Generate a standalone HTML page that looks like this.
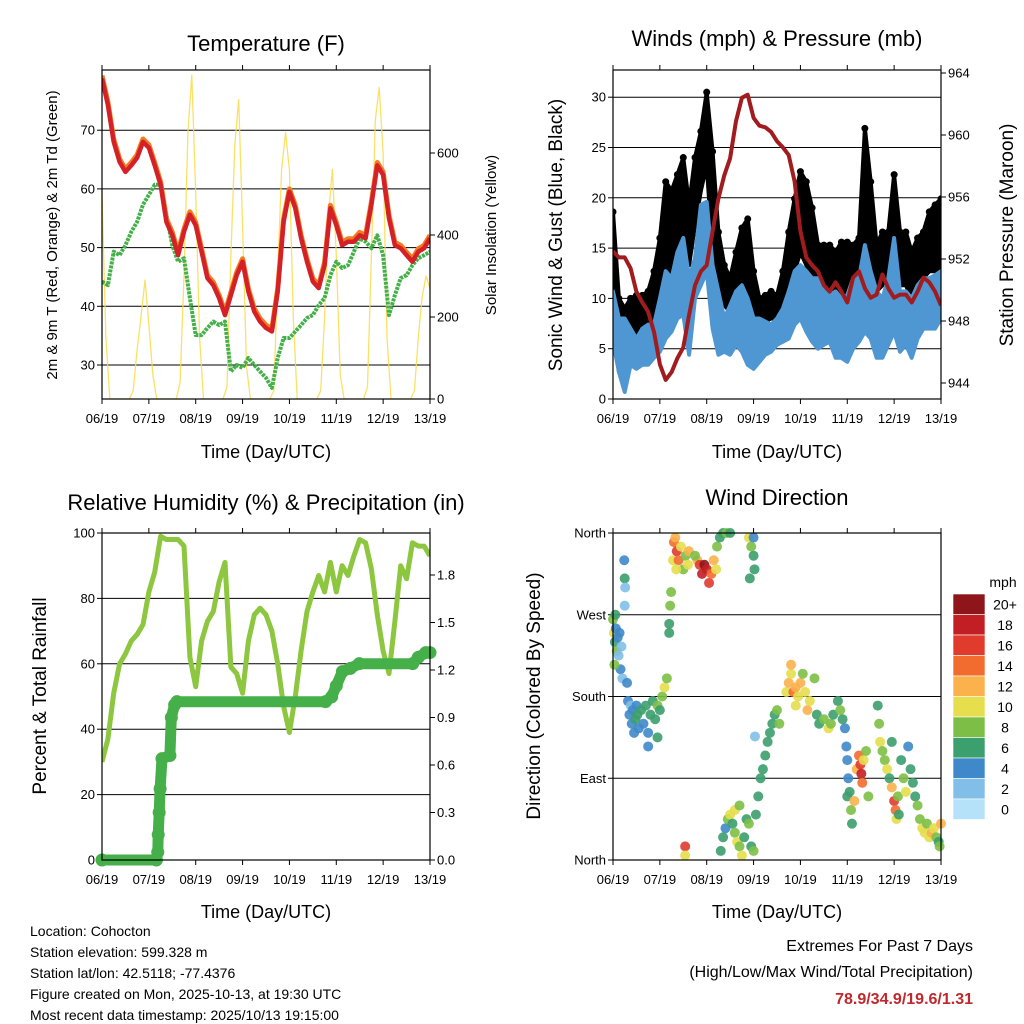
<!DOCTYPE html>
<html><head><meta charset="utf-8">
<style>
html,body{margin:0;padding:0;background:#fff;}
svg{display:block;font-family:"Liberation Sans",sans-serif;}
</style></head>
<body>
<svg id="chart" width="1024" height="1024" viewBox="0 0 1024 1024" xmlns="http://www.w3.org/2000/svg">
<rect width="1024" height="1024" fill="#fff"/>
<defs>
<clipPath id="c1"><rect x="102" y="70" width="328" height="329"/></clipPath>
<clipPath id="c2"><rect x="613" y="70" width="328" height="329"/></clipPath>
<clipPath id="c3"><rect x="102" y="533" width="328" height="327"/></clipPath>
<clipPath id="c4"><rect x="608" y="528" width="338" height="337"/></clipPath>
</defs>
<text x="266" y="51" font-size="22" text-anchor="middle">Temperature (F)</text>
<text x="777" y="46" font-size="22" text-anchor="middle">Winds (mph) &amp; Pressure (mb)</text>
<text x="266" y="510" font-size="22" text-anchor="middle">Relative Humidity (%) &amp; Precipitation (in)</text>
<text x="777" y="505" font-size="22" text-anchor="middle">Wind Direction</text>
<text x="266" y="458" font-size="18" text-anchor="middle">Time (Day/UTC)</text>
<text x="777" y="458" font-size="18" text-anchor="middle">Time (Day/UTC)</text>
<text x="266" y="918" font-size="18" text-anchor="middle">Time (Day/UTC)</text>
<text x="777" y="918" font-size="18" text-anchor="middle">Time (Day/UTC)</text>
<text transform="translate(57,235) rotate(-90)" font-size="15" text-anchor="middle">2m &amp; 9m T (Red, Orange) &amp; 2m Td (Green)</text>
<text transform="translate(496,235) rotate(-90)" font-size="15" text-anchor="middle">Solar Insolation (Yellow)</text>
<text transform="translate(562,235) rotate(-90)" font-size="19" text-anchor="middle">Sonic Wind &amp; Gust (Blue, Black)</text>
<text transform="translate(1013,235) rotate(-90)" font-size="19" text-anchor="middle">Station Pressure (Maroon)</text>
<text transform="translate(46,696) rotate(-90)" font-size="19" text-anchor="middle">Percent &amp; Total Rainfall</text>
<text transform="translate(540,696) rotate(-90)" font-size="19" text-anchor="middle">Direction (Colored By Speed)</text>
<g font-size="14">
<text x="30" y="936">Location: Cohocton</text>
<text x="30" y="957">Station elevation: 599.328 m</text>
<text x="30" y="978">Station lat/lon: 42.5118; -77.4376</text>
<text x="30" y="999">Figure created on Mon, 2025-10-13, at 19:30 UTC</text>
<text x="30" y="1020">Most recent data timestamp: 2025/10/13 19:15:00</text>
</g>
<text x="973" y="951" font-size="16" text-anchor="end">Extremes For Past 7 Days</text>
<text x="973" y="977" font-size="16" text-anchor="end">(High/Low/Max Wind/Total Precipitation)</text>
<text x="973" y="1004" font-size="16" font-weight="bold" fill="#c0282d" text-anchor="end">78.9/34.9/19.6/1.31</text>
<text x="1003" y="587" font-size="14" text-anchor="middle">mph</text>
</svg>
<script>
const xTickLabels = ["06/19","07/19","08/19","09/19","10/19","11/19","12/19","13/19"];
const tempRed = [78.8,74.3,68,64.6,62.9,64,65.3,68,67,64,60.7,54.4,52.1,48.7,52.7,55.6,53.8,49.3,44.8,43.6,41.4,38.5,41.9,45.3,47.6,42.5,39.1,37.4,36.3,35.7,42.5,54.4,59.5,56.7,51.6,47.6,44.2,43.1,47,56.7,53.8,50.4,51,51,52.1,51.6,57.3,64,62.4,55,50.4,49.9,48.7,47.6,49.3,49.9,51.6];
const dewGreen = [44.2,43.6,49.3,48.7,50.4,52.7,54.4,57.3,59,60.7,60.7,55.6,50.4,47.6,48.2,41.4,35.1,35.1,36.3,37.4,36.8,37.4,28.9,30,29.5,31.2,30,28.9,27.8,26.1,31.2,34.6,34.6,35.7,36.8,38,38.5,40.2,41.4,45.3,47.6,46.5,47,49.3,51.6,51,49.9,52.1,48.7,38.5,41.9,44.8,45.3,47,48.2,48.7,49.3];
const solar = [500,150,0,0,0,0,0,0,20,120,200,290,180,60,0,0,0,0,0,0,40,300,650,790,500,150,0,0,0,0,0,0,30,350,620,730,420,80,0,0,0,0,0,0,20,300,560,650,560,200,0,0,0,0,0,0,20,200,450,560,350,60,0,0,0,0,0,0,30,350,680,760,600,150,0,0,0,0,0,0,20,150,250,300,270];
const tempTicks = [30,40,50,60,70];
const solarTicks = [0,200,400,600];
const pressure = [952.5,952.1,952.1,951.4,949.9,949.2,948.6,947.3,945.2,944.2,944.7,945.6,946.3,948.4,950.3,951.2,951.6,953.8,955.9,957.4,958.5,960.9,962.4,962.6,961.1,960.6,960.5,960.2,959.6,959.2,958.7,957,953.8,952.1,951.6,951.2,950.3,949.9,950.5,949.9,949.2,950.8,951.2,950.1,949.5,949.7,951,950.1,949.5,949.7,949.7,949.2,949.9,950.8,950.5,949.9,949];
const windHigh = [10.7,8,8,7,6,7,7.4,7.4,10,12.7,12,14.6,16,12,14,19.3,19.6,13.3,10.7,8,9.3,10.7,11.3,10,8,8,7.7,7.4,8,9,10.7,12.7,13.3,12.7,12,12,10.7,10.3,10.7,10,10.3,12,12,15.3,12.7,10.7,10,12,16,10.7,10.7,10,11.3,12,12,12.3,12.7];
const windLow = [5.7,2.7,0.7,3.4,3,3.4,3.4,4.1,4.7,6,6.7,8,8.4,4.4,10,11.3,12.7,7,4.4,4.7,4.4,5.4,4.7,3.4,3,3.7,4.4,4.7,5.4,5.7,6,7.4,8,6.7,5.7,5,5.4,5.7,4.1,4.1,3.7,5,5.7,6.7,6,4.1,4.1,5.4,6.7,4.7,5.4,4.1,6,7,7,7,8];
const gustHigh = [18.6,10,9,10,10.3,10.3,10.7,12.7,16,21.6,20.7,22.3,24,19.3,24,26.6,30.5,24.6,16.6,13.3,12,14.6,17,17.9,12.7,10,10.3,10.7,10.3,12.7,16.6,19.9,22.6,21.6,19,15.3,15.3,15.3,14.6,15.6,15.6,15.3,16,26.9,21.6,15.3,16.6,16.6,22.3,16.6,16.6,14.6,16,16.6,18.6,19.3,19.9];
const gustLow = [10,2.7,1.4,5.7,6.7,6.7,7.4,8,10,12,12,14.6,16.6,13.3,17.3,20.7,23.3,14.6,10,9.3,8.7,10,10.7,10,8,7.4,7.7,8,8,8.7,11.6,12.7,14.6,13.3,12,10,10,10,9.3,9.3,8.7,10,10.7,14.6,13.3,10.7,11.3,11.3,13.3,11.3,11.3,10,11.3,12,12.7,12.7,12.7];
const windTicks = [0,5,10,15,20,25,30];
const pressureTicks = [944,948,952,956,960,964];
const humidity = [30,37,51,60,63,67,69,72,82,88,99,98,98,98,96,62,53,67,73,76,85,91,59,57,51,67,75,77,75,70,60,47,39,50,64,76,82,87,82,91,82,90,87,93,98,97,89,75,64,57,73,90,86,97,96,96,93];
const precipTime = [0,1.16,1.19,1.2,1.22,1.24,1.28,1.45,1.48,1.55,1.6,4.77,4.9,5.0,5.13,5.3,5.49,6.63,6.75,6.91,7.0];
const precipTotal = [0,0,0.05,0.16,0.3,0.45,0.64,0.66,0.9,0.98,1.0,1.0,1.03,1.1,1.19,1.21,1.24,1.24,1.28,1.31,1.31];
const rhTicks = [0,20,40,60,80,100];
const rainTicks = ["0.0","0.3","0.6","0.9","1.2","1.5","1.8"];
const dirTime = [0,0.02,0.04,0.06,0.08,0.1,0.12,0.14,0.16,0.18,0.2,0.05,0.03,0.24,0.25,0.26,0.25,0.3,0.32,0.35,0.38,0.4,0.42,0.45,0.48,0.5,0.52,0.55,0.6,0.65,0.7,0.75,0.8,0.85,0.9,0.95,1.0,1.05,1.1,1.15,0.75,0.95,1.2,1.22,1.24,1.2,1.28,1.3,1.33,1.36,1.4,1.45,1.5,1.55,1.6,1.62,1.35,1.54,1.54,1.8,1.85,1.9,1.95,2.0,2.05,2.1,2.15,2.2,1.75,2.22,2.28,2.35,2.42,2.5,2.9,2.95,3.0,3.02,2.92,3.0,2.3,2.35,2.4,2.45,2.5,2.55,2.6,2.65,2.7,2.75,2.8,2.85,2.9,2.95,3.0,3.05,3.1,3.15,2.6,2.7,3.2,3.25,3.3,3.35,3.4,3.45,3.5,3.55,3.03,3.7,3.75,3.8,3.85,3.9,3.95,4.0,4.05,4.1,4.15,4.2,3.8,3.9,4.3,4.35,4.4,4.5,4.6,4.65,4.7,4.8,4.85,4.9,4.95,4.98,5.0,5.02,5.05,5.08,5.1,5.0,5.15,5.2,5.25,5.28,5.3,5.32,5.35,5.4,5.45,5.65,5.68,5.7,5.75,5.8,5.85,5.9,5.95,5.95,6.0,6.03,6.05,6.08,6.1,6.15,6.2,6.25,6.3,6.35,6.4,6.45,6.5,6.55,6.6,6.65,6.7,6.75,6.8,6.85,6.9,6.95,7.0,6.97];
const dirDeg = [265,250,240,255,230,245,225,250,210,235,200,270,215,330,310,300,280,195,175,160,170,150,165,140,155,170,160,145,165,150,170,140,160,175,155,170,165,180,190,200,125,135,260,280,295,250,330,350,355,340,330,345,320,335,325,340,320,15,5,330,325,315,325,320,305,315,330,320,335,345,355,360,360,360,355,345,335,320,310,355,10,25,35,45,50,40,30,20,15,5,25,45,40,15,10,50,70,90,55,60,100,115,130,140,150,160,165,150,136,185,195,205,185,190,180,195,205,185,165,175,215,170,200,160,150,155,145,150,160,175,165,155,145,125,110,90,75,55,40,70,65,100,115,105,95,85,110,120,70,170,150,130,120,110,100,90,130,80,65,55,45,70,50,110,90,75,125,100,85,70,60,45,35,30,40,25,30,35,25,20,40,15];
const dirSpeed = [8,10,6,4,8,4,2,4,4,3,2,6,8,4,6,2,2,4,4,4,2,4,4,4,6,4,6,4,6,4,6,4,6,6,6,8,6,8,10,8,4,6,6,8,8,6,10,14,12,16,14,10,8,8,10,12,10,16,10,12,16,18,20,18,16,14,12,10,8,8,6,6,8,6,10,8,6,6,6,4,6,6,4,8,10,6,8,10,8,10,6,6,8,6,8,6,6,6,10,8,6,6,6,6,6,6,8,8,2,10,12,10,14,12,10,12,8,10,12,10,12,10,8,6,6,8,10,8,6,6,8,6,4,4,4,4,6,8,6,6,12,12,14,16,18,14,10,8,8,6,8,10,8,8,10,6,6,12,16,14,10,8,6,6,8,10,4,6,6,6,8,8,10,10,8,10,12,10,8,6,12,8];
const speedLabels = ["0","2","4","6","8","10","12","14","16","18","20+"];
const speedColors = ["#b5e2f8","#82bfe8","#3f88c9","#3c9f6e","#7dbf46","#e6de4d","#fbb14c","#f26b2f","#e03b2d","#c21f25","#8e1519"];
const dirTicks = ["North","East","South","West","North"];

const NS="http://www.w3.org/2000/svg";
const svg=document.getElementById('chart');
function el(tag,attrs,parent){const e=document.createElementNS(NS,tag);for(const k in attrs)e.setAttribute(k,attrs[k]);(parent||svg).appendChild(e);return e;}
function xScale(x0,x1){return t=>x0+t/7*(x1-x0);}
function linScale(v0,p0,v1,p1){return v=>p0+(v-v0)/(v1-v0)*(p1-p0);}

function frame(x0,y0,x1,y1,name){
  const g=el('g',{});
  
  
  const xs=xScale(x0,x1);
  xTickLabels.forEach((lab,i)=>{
    const x=xs(i);
    const tk=el('line',{x1:x,x2:x,y1:y1,y2:y1+5,stroke:'#000','stroke-width':1},g);
    
    
    const tt=el('line',{x1:x,x2:x,y1:y0,y2:y0-5,stroke:'#000','stroke-width':1},g);
    
    
    const t=el('text',{x:x,y:y1+24,'font-size':13,'text-anchor':'middle'},g);
    t.textContent=lab;
    
    
  });
  return {g,xs};
}
function gridY(g,x0,x1,y,draw){
  if(draw){const l=el('line',{x1:x0,x2:x1,y1:y,y2:y,stroke:'#000','stroke-width':1},g);
  
  }
}
// axisX: position of axis line; side -1 = left axis (ticks go left), +1 right axis
function tickLabel(g,axisX,y,txt,side){
  const tk=el('line',{x1:axisX,x2:axisX+side*5,y1:y,y2:y,stroke:'#000'},g);
  
  
  const t=el('text',{x:axisX+side*7,y:y+4.5,'font-size':13,'text-anchor':side<0?'end':'start'},g);
  t.textContent=txt;
  
  
}
function border(g,x0,y0,x1,y1){
  const r=el('rect',{x:x0,y:y0,width:x1-x0,height:y1-y0,fill:'none',stroke:'#000','stroke-width':1.2},g);
  
  
}
function pts(arr,xs,ys,step){return arr.map((v,i)=>xs(i*step).toFixed(1)+','+ys(v).toFixed(1)).join(' ');}

// ---- Panel 1: Temperature ----
(function(){
  const x0=102,x1=430,y0=70,y1=399;
  const {g,xs}=frame(x0,y0,x1,y1,'temperature-panel');
  const yT=linScale(30,365,70,130.2);
  const yS=linScale(0,399,600,153);
  tempTicks.forEach(v=>{gridY(g,x0,x1,yT(v),true);tickLabel(g,x0,yT(v),String(v),-1);});
  solarTicks.forEach(v=>tickLabel(g,x1,yS(v),String(v),1));
  const cg=el('g',{'clip-path':'url(#c1)'},g);
  
  
  const sol=el('polyline',{points:pts(solar,xs,yS,7/84),fill:'none',stroke:'#f9dc4a','stroke-width':1.3,'stroke-linejoin':'round',opacity:0.85},cg);
  
  
  const dw=el('polyline',{points:pts(dewGreen,xs,yT,0.125),fill:'none',stroke:'#45b04a','stroke-width':4,'stroke-dasharray':'3 1','stroke-linejoin':'round'},cg);
  
  
  const or=el('polyline',{points:pts(tempRed.map(v=>v+0.5),xs,yT,0.125),fill:'none',stroke:'#f47b20','stroke-width':5,'stroke-linejoin':'round'},cg);
  
  
  const rd=el('polyline',{points:pts(tempRed,xs,yT,0.125),fill:'none',stroke:'#d42027','stroke-width':4.5,'stroke-linejoin':'round'},cg);
  
  
  border(g,x0,y0,x1,y1);
})();

// ---- Panel 2: Winds ----
(function(){
  const x0=613,x1=941,y0=70,y1=399;
  const {g,xs}=frame(x0,y0,x1,y1,'winds-panel');
  const yW=linScale(0,399,30,97.2);
  const yP=linScale(944,383,964,73);
  windTicks.forEach(v=>{gridY(g,x0,x1,yW(v),v>0);tickLabel(g,x0,yW(v),String(v),-1);});
  pressureTicks.forEach(v=>tickLabel(g,x1,yP(v),String(v),1));
  const cg=el('g',{'clip-path':'url(#c2)'},g);
  
  
  function band(hi,lo,color,name){
    const top=hi.map((v,i)=>xs(i*0.125).toFixed(1)+','+yW(v).toFixed(1));
    const bot=lo.map((v,i)=>xs(i*0.125).toFixed(1)+','+yW(v).toFixed(1)).reverse();
    const p=el('polygon',{points:top.concat(bot).join(' '),fill:color,stroke:color,'stroke-width':4,'stroke-linejoin':'round'},cg);
    
    
  }
  band(gustHigh,gustLow,'#000','gust-band');
  gustHigh.forEach((v,i)=>{
    const c=el('circle',{cx:xs(i*0.125),cy:yW(v),r:3.5,fill:'#000'},cg);
    
    
  });
  band(windHigh,windLow,'#4f97d3','wind-band');
  const pl=el('polyline',{points:pts(pressure,xs,yP,0.125),fill:'none',stroke:'#a01c1e','stroke-width':4,'stroke-linejoin':'round'},cg);
  
  
  border(g,x0,y0,x1,y1);
})();

// ---- Panel 3: Humidity & Precip ----
(function(){
  const x0=102,x1=430,y0=533,y1=860;
  const {g,xs}=frame(x0,y0,x1,y1,'humidity-panel');
  const yR=linScale(0,860,100,533);
  const yPr=linScale(0,860,0.3,812.5);
  rhTicks.forEach(v=>{gridY(g,x0,x1,yR(v),v>0&&v<100);tickLabel(g,x0,yR(v),String(v),-1);});
  rainTicks.forEach(s=>tickLabel(g,x1,yPr(parseFloat(s)),s,1));
  const cg=el('g',{'clip-path':'url(#c3)'},g);
  
  
  const rh=el('polyline',{points:pts(humidity,xs,yR,0.125),fill:'none',stroke:'#8dc63f','stroke-width':5,'stroke-linejoin':'round'},cg);
  
  
  const pp=precipTime.map((t,i)=>xs(t).toFixed(1)+','+yPr(precipTotal[i]).toFixed(1)).join(' ');
  const pr=el('polyline',{points:pp,fill:'none',stroke:'#45b04a','stroke-width':11,'stroke-linejoin':'round','stroke-linecap':'round'},g);
  
  
  precipTime.forEach((t,i)=>{
    const c=el('circle',{cx:xs(t),cy:yPr(precipTotal[i]),r:6.5,fill:'#45b04a'},g);
    
    
  });
  border(g,x0,y0,x1,y1);
})();

// ---- Panel 4: Wind direction ----
(function(){
  const x0=613,x1=941,y0=533,y1=860;
  const {g,xs}=frame(x0,y0,x1,y1,'wind-direction-panel');
  const yD=linScale(0,860,360,533);
  dirTicks.forEach((lab,i)=>{const v=i*90;gridY(g,x0,x1,yD(v),i>0&&i<4);tickLabel(g,x0,yD(v),lab,-1);});
  const cg=el('g',{'clip-path':'url(#c4)'},g);
  
  
  dirTime.forEach((t,i)=>{
    const bin=Math.min(10,Math.floor(dirSpeed[i]/2));
    const c=el('circle',{cx:xs(t),cy:yD(dirDeg[i]),r:5,fill:speedColors[bin],opacity:0.9},cg);
    
    
  });
  border(g,x0,y0,x1,y1);
  const cb=el('g',{});
  
  
  const bh=20.5, by=594;
  speedLabels.forEach((lab,i)=>{
    const k=10-i;
    const r=el('rect',{x:953,y:by+i*bh,width:32,height:bh,fill:speedColors[k],stroke:'#fff','stroke-width':0.6},cb);
    
    
    const t=el('text',{x:1005,y:by+i*bh+bh/2+5,'font-size':14,'text-anchor':'middle'},cb);
    t.textContent=speedLabels[k];
    
    
  });
})();
</script>
</body></html>
